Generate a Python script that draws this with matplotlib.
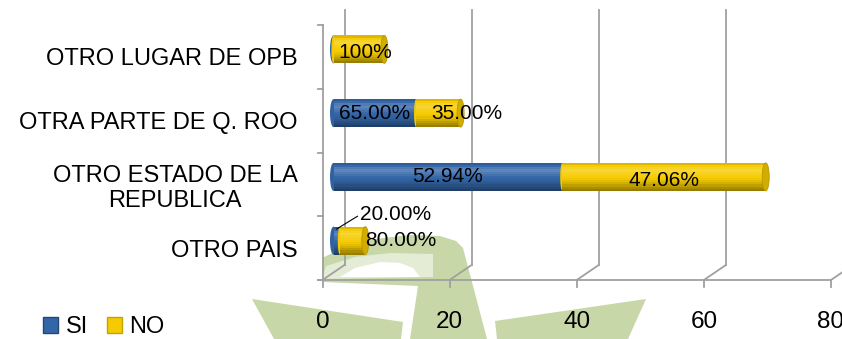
import numpy as np
import matplotlib.pyplot as plt
from matplotlib.colors import to_rgb
from matplotlib.patches import Ellipse, Polygon, Patch

plt.rcParams['font.family'] = ['Liberation Sans', 'DejaVu Sans']

# datos (de abajo hacia arriba)
categorias = ['OTRO PAIS', 'OTRO ESTADO DE LA\nREPUBLICA',
              'OTRA PARTE DE Q. ROO', 'OTRO LUGAR DE OPB']
si = [1, 36, 13, 0]
no = [4, 32, 7, 8]
etiq_si = ['20.00%', '52.94%', '65.00%', '']
etiq_no = ['80.00%', '47.06%', '35.00%', '100%']
ticks_x = [0, 20, 40, 60, 80]

azul = '#3366a8'
oro = '#f5cb00'
gris = '#a0a0a0'

W, H = 842, 339
fig = plt.figure(figsize=(W / 100, H / 100), dpi=100)

# marca de agua de fondo
bg = fig.add_axes([0, 0, 1, 1], zorder=-1)
bg.set_xlim(0, W)
bg.set_ylim(H, 0)
bg.axis('off')
verde = '#c7d7a8'
verde_claro = '#e4ecd6'
bg.add_patch(Polygon([(252, 299), (403, 322), (401, 339), (274, 339)], color=verde, lw=0))
bg.add_patch(Polygon([(495, 321), (646, 299), (628, 339), (497, 339)], color=verde, lw=0))
bg.add_patch(Polygon([(322, 258), (345, 247), (375, 239), (410, 235), (440, 236),
                      (456, 241), (463, 248), (487, 339), (410, 339), (418, 286),
                      (322, 282)], color=verde, lw=0))
bg.add_patch(Polygon([(326, 266), (355, 257), (390, 253), (433, 254), (433, 277),
                      (322, 279)], color=verde_claro, lw=0))
bg.add_patch(Polygon([(340, 277), (355, 268), (380, 262), (400, 263), (413, 268),
                      (420, 277)], color='white', lw=0))

# plano frontal del grafico en pixeles
x0, x1 = 322.5, 831
yb, yt = 280, 25
ax = fig.add_axes([x0 / W, (H - yb) / H, (x1 - x0) / W, (yb - yt) / H])
ax.set_facecolor('none')
ax.set_xlim(0, 80)
ax.set_ylim(-0.5, 3.5)
for s in ax.spines.values():
    s.set_visible(False)

ppu = (x1 - x0) / 80        # px por unidad en x
ppc = (yb - yt) / 4         # px por categoria
dx = 22 / ppu               # profundidad 3D
dy = 15 / ppc

kw = dict(color=gris, lw=1.3, clip_on=False, zorder=1)
for v in ticks_x:
    ax.plot([v + dx, v + dx], [-0.5 + dy, 3.5 + dy], **kw)
    ax.plot([v, v + dx], [-0.5, -0.5 + dy], **kw)
    ax.plot([v, v], [-0.5, -0.5 - 7 / ppc], **kw)
ax.plot([-5 / ppu, 80], [-0.5, -0.5], **kw)
ax.plot([0, 0], [-0.5, 3.5], **kw)
for yy in np.arange(-0.5, 4, 1):
    ax.plot([-5 / ppu, 0], [yy, yy], **kw)


def tono(color, f):
    rgb = np.array(to_rgb(color))
    if f < 1:
        return rgb * f
    return rgb + (1 - rgb) * (f - 1)


perfil = [0.62, 0.7, 0.78, 0.86, 0.93, 0.98, 1.02, 1.08, 1.14, 1.2, 1.14, 1.02, 0.9]
alto = 28 / ppc
tapa = 7 / ppu


def cilindro(y, left, width, color, z):
    n = len(perfil)
    for k, f in enumerate(perfil):
        ax.barh(y - alto / 2 + (k + 0.5) * alto / n, width, left=left,
                height=alto / n * 1.05, color=tono(color, f), lw=0, zorder=z)


for i in range(len(categorias)):
    y = i + dy / 2
    x = dx / 2
    # SI
    ax.add_patch(Ellipse((x, y), tapa, alto, color=tono(azul, 0.95), lw=0, zorder=2.9))
    cilindro(y, x, si[i], azul, 3.0)
    # NO
    ax.add_patch(Ellipse((x + si[i], y), tapa * 0.6, alto, color=tono(oro, 1.0), lw=0, zorder=3.2))
    cilindro(y, x + si[i], no[i], oro, 3.3)
    ax.add_patch(Ellipse((x + si[i] + no[i], y), tapa, alto, color=tono(oro, 0.85),
                         ec=tono(oro, 0.75), lw=0.6, zorder=3.4))

# etiquetas de datos
fs = 15
c = dx / 2
ax.text(si[1] / 2 + c, 1 + dy / 2, etiq_si[1], ha='center', va='center', fontsize=fs, zorder=5)
ax.text(si[1] + no[1] / 2 + c, 1 + dy / 2 - 0.05, etiq_no[1], ha='center', va='center', fontsize=fs, zorder=5)
ax.text(si[2] / 2 + c, 2 + dy / 2, etiq_si[2], ha='center', va='center', fontsize=fs, zorder=5)
ax.text(si[2] + no[2] + c + 1.0, 2 + dy / 2, etiq_no[2], ha='center', va='center', fontsize=fs, zorder=5)
ax.text(si[3] + no[3] / 2 + c + 1.0, 3 + dy / 2 - 0.05, etiq_no[3], ha='center', va='center', fontsize=fs, zorder=5)
ax.text(si[0] + no[0] + c, 0 + dy / 2, etiq_no[0], ha='left', va='center', fontsize=fs, zorder=5)
ax.text(5.9, 0.52, etiq_si[0], ha='left', va='center', fontsize=fs, zorder=5)
ax.plot([si[0] / 2 + c, 5.5], [0.3, 0.5], color='black', lw=0.8, zorder=5, clip_on=False)

# ejes
ax.set_xticks(ticks_x)
ax.set_xticklabels([str(t) for t in ticks_x], fontsize=17.5)
ax.set_yticks(range(len(categorias)))
ax.set_yticklabels(categorias, fontsize=17)
for lab in ax.get_yticklabels():
    lab.set_multialignment('center')
ax.tick_params(axis='x', length=0, pad=22)
ax.tick_params(axis='y', length=0, pad=18)

handles = [Patch(facecolor=azul, edgecolor=tono(azul, 0.7), label='SI'),
           Patch(facecolor=oro, edgecolor=tono(oro, 0.8), label='NO')]
fig.legend(handles=handles, loc='center left', bbox_to_anchor=(43 / W, 1 - 327 / H),
           ncol=2, frameon=False, fontsize=17, handlelength=0.65, handleheight=0.65,
           handletextpad=0.3, columnspacing=0.8, borderpad=0, borderaxespad=0)

fig.savefig('out.png', dpi=100)
